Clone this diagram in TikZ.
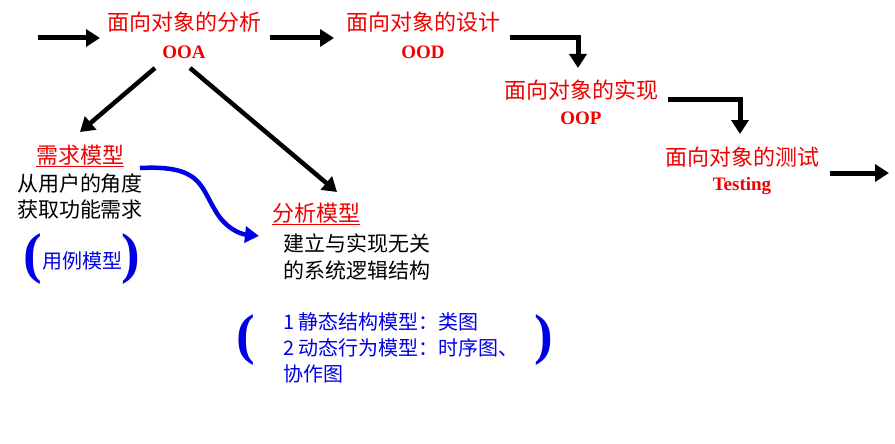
\documentclass[tikz,border=0pt]{standalone}
\usepackage{fontspec}
\setmainfont{Liberation Serif}
\newfontfamily\cjk{Noto Sans CJK SC}
\usetikzlibrary{arrows.meta}
\definecolor{myred}{RGB}{240,0,0}
\definecolor{myblue}{RGB}{0,0,230}
\begin{document}
\begin{tikzpicture}[x=1pt,y=-1pt,
  arr/.style={line width=5pt,-{Triangle[length=14pt,width=17pt]}},
  ti/.style={text=myred,font=\cjk\fontsize{22}{24}\selectfont,inner sep=0pt},
  en/.style={text=myred,font=\bfseries\fontsize{19}{20}\selectfont,inner sep=0pt},
  bk/.style={font=\cjk\fontsize{21}{24}\selectfont,inner sep=0pt},
  bl/.style={text=myblue,font=\cjk\fontsize{20}{22}\selectfont,inner sep=0pt,anchor=west},
  par/.style={text=myblue,font=\bfseries\fontsize{56}{56}\selectfont,inner sep=0pt}]
\useasboundingbox (0,0) rectangle (895,444);
\node[ti] (t1) at (184,22) {面向对象的分析};
\node[en] (e1) at (184,52) {OOA};
\node[ti] (t2) at (423,22) {面向对象的设计};
\node[en] (e2) at (423,52) {OOD};
\node[ti] (t3) at (581,90) {面向对象的实现};
\node[en] (e3) at (581,118) {OOP};
\node[ti] (t4) at (742,157) {面向对象的测试};
\node[en] (e4) at (742,186) {Testing};
\coordinate (s0) at (38,38); \coordinate (s1) at (100,38);
\coordinate (a0) at (270,38); \coordinate (a1) at (334,38);
\coordinate (b0) at (510,38); \coordinate (b1) at (578,38); \coordinate (b2) at (578,68);
\coordinate (c0) at (668,100); \coordinate (c1) at (740,100); \coordinate (c2) at (740,134);
\coordinate (d0) at (830,173); \coordinate (d1) at (889,173);
\draw[arr] (s0) -- (s1);
\draw[arr] (a0) -- (a1);
\draw[arr] (b0) -- (b1) -- (b2);
\draw[arr] (c0) -- (c1) -- (c2);
\draw[arr] (d0) -- (d1);
\node[ti] (m1) at (80,156) {\underline{需求模型}};
\node[bk] (m1a) at (80,184) {从用户的角度};
\node[bk] (m1b) at (80,210) {获取功能需求};
\node[ti] (m2) at (316,214) {\underline{分析模型}};
\node[bk,anchor=west] (m2a) at (283,243) {建立与实现无关};
\node[bk,anchor=west] (m2b) at (283,270) {的系统逻辑结构};
\draw[arr,line width=4.5pt] (155,68) -- (80,132);
\draw[arr,line width=4.5pt] (190,68) -- (337,192);
\draw[line width=4.5pt,myblue,-{Triangle[length=14pt,width=16pt]}] (140,168) .. controls (200,165) and (200,185) .. (215,210) .. controls (225,228) and (240,234) .. (259,236);
\node[par] (p1) at (33,259) {(};
\node[par] (p2) at (131,259) {)};
\node[bl,anchor=center] (u) at (82,261) {用例模型};
\node[par] (p3) at (246,340) {(};
\node[par] (p4) at (544,340) {)};
\node[bl] (l1) at (283,322) {1 静态结构模型：类图};
\node[bl] (l2) at (283,348) {2 动态行为模型：时序图、};
\node[bl] (l3) at (283,374) {协作图};
\end{tikzpicture}
\end{document}
